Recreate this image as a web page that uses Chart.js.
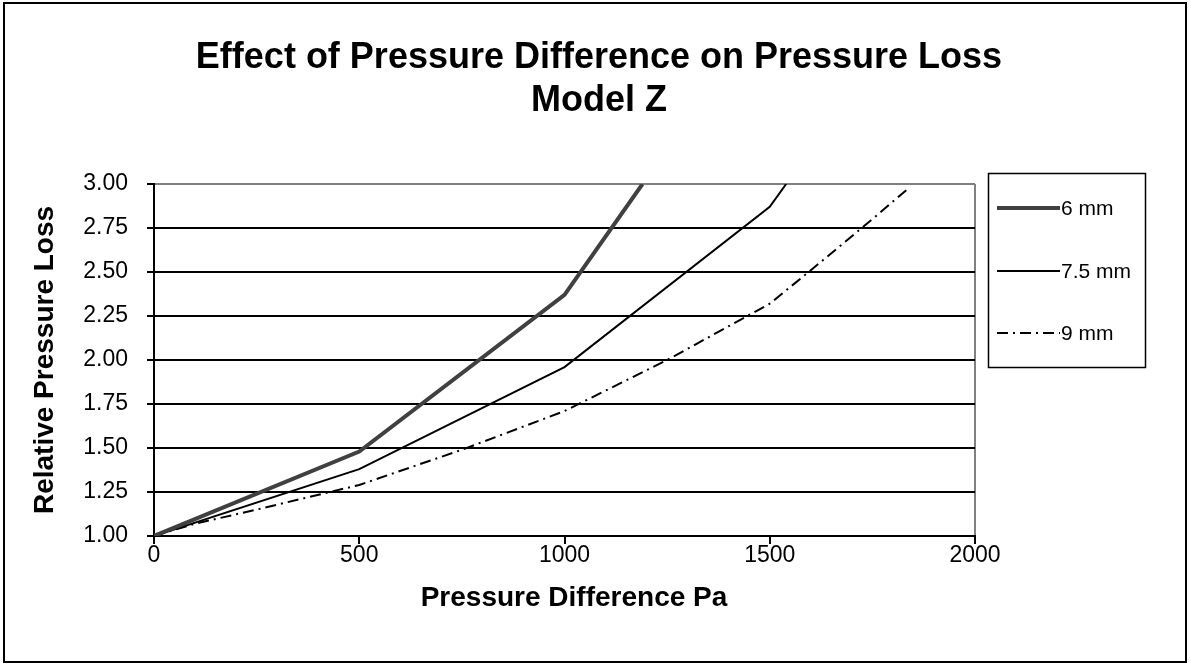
<!DOCTYPE html>
<html>
<head>
<meta charset="utf-8">
<script src="https://cdn.jsdelivr.net/npm/chart.js@4.4.1/dist/chart.umd.min.js"></script>
<style>
html,body{margin:0;padding:0;background:#fff;}
#wrap{width:1191px;height:668px;}
</style>
</head>
<body>
<div id="wrap"><canvas id="c" width="1191" height="668"></canvas></div>
<script>
// ---- data ----
const titleLines = ['Effect of Pressure Difference on Pressure Loss', 'Model Z'];
const xTitle = 'Pressure Difference Pa';
const yTitle = 'Relative Pressure Loss';
const seriesNames = ['6 mm', '7.5 mm', '9 mm'];

const pressure6 = [0, 500, 1000, 1190];
const loss6 = [1.00, 1.48, 2.37, 3.00];

const pressure75 = [0, 500, 1000, 1500, 1540];
const loss75 = [1.00, 1.38, 1.96, 2.87, 3.00];

const pressure9 = [0, 100, 250, 500, 750, 1000, 1250, 1500, 1600, 1750, 1800, 1840];
const loss9 = [1.00, 1.07, 1.15, 1.29, 1.49, 1.71, 2.00, 2.32, 2.51, 2.80, 2.90, 2.98];

const xTicks = [0, 500, 1000, 1500, 2000];
const yTicks = [1.00, 1.25, 1.50, 1.75, 2.00, 2.25, 2.50, 2.75, 3.00];

const FONT = "'Liberation Sans', Arial, sans-serif";

function pts(xs, ys) { return xs.map((x, i) => ({x: x, y: ys[i]})); }

const styles = [
  {borderColor: '#404040', borderWidth: 4, borderDash: []},
  {borderColor: '#000000', borderWidth: 2, borderDash: []},
  {borderColor: '#000000', borderWidth: 2, borderDash: [11, 5, 2, 5]}
];

const datasets = [
  Object.assign({label: seriesNames[0], data: pts(pressure6, loss6)}, styles[0]),
  Object.assign({label: seriesNames[1], data: pts(pressure75, loss75)}, styles[1]),
  Object.assign({label: seriesNames[2], data: pts(pressure9, loss9)}, styles[2])
].map(d => Object.assign(d, {showLine: true, pointRadius: 0, pointHoverRadius: 0, fill: false, tension: 0}));

const framePlugin = {
  id: 'frame',
  beforeDraw(chart) {
    const ctx = chart.ctx;
    ctx.save();
    ctx.fillStyle = '#fff';
    ctx.fillRect(0, 0, chart.width, chart.height);
    ctx.strokeStyle = '#000';
    ctx.lineWidth = 2;
    ctx.strokeRect(4, 3, 1182, 659);
    // chart title
    ctx.fillStyle = '#000';
    ctx.textAlign = 'center';
    ctx.textBaseline = 'middle';
    ctx.font = 'bold 36px ' + FONT;
    ctx.fillText(titleLines[0], 599, 58);
    ctx.fillText(titleLines[1], 599, 101);
    // x axis title
    ctx.font = 'bold 28px ' + FONT;
    ctx.fillText(xTitle, 574, 598);
    ctx.restore();
  }
};

const legendBoxPlugin = {
  id: 'legendBox',
  afterDraw(chart) {
    const ctx = chart.ctx;
    ctx.save();
    ctx.strokeStyle = '#000';
    ctx.lineWidth = 1.5;
    ctx.strokeRect(988.5, 173.5, 157, 194);
    const rows = [208, 271, 333];
    ctx.font = '21px ' + FONT;
    ctx.fillStyle = '#000';
    ctx.textBaseline = 'middle';
    ctx.textAlign = 'left';
    chart.data.datasets.forEach((ds, i) => {
      const y = rows[i];
      ctx.beginPath();
      ctx.strokeStyle = ds.borderColor;
      ctx.lineWidth = ds.borderWidth;
      ctx.setLineDash(ds.borderDash || []);
      ctx.moveTo(997, y);
      ctx.lineTo(1060, y);
      ctx.stroke();
      ctx.setLineDash([]);
      ctx.fillText(ds.label, 1061, y + 1);
    });
    ctx.restore();
  }
};

new Chart(document.getElementById('c'), {
  type: 'scatter',
  data: {datasets: datasets},
  plugins: [framePlugin, legendBoxPlugin],
  options: {
    responsive: false,
    animation: false,
    layout: {padding: {left: 0, right: 216, top: 184, bottom: 0}},
    plugins: {
      legend: {display: false},
      tooltip: {enabled: false},
      title: {display: false}
    },
    scales: {
      x: {
        type: 'linear',
        min: 0, max: 2000,
        afterBuildTicks(scale) { scale.ticks = xTicks.map(v => ({value: v})); },
        afterFit(scale) { scale.height = 132; },
        ticks: {
          color: '#000',
          font: {family: FONT, size: 23, lineHeight: 1.0},
          padding: 0,
          maxRotation: 0,
          callback: v => String(v)
        },
        grid: {
          drawOnChartArea: true,
          color: ctx => (ctx.tick && ctx.tick.value === 2000) ? '#808080' : 'rgba(0,0,0,0)',
          lineWidth: 2,
          tickColor: '#000',
          tickLength: 8,
          tickWidth: 2
        },
        border: {display: true, color: '#000', width: 2},
        title: {display: false, text: xTitle}
      },
      y: {
        type: 'linear',
        min: 1, max: 3,
        afterBuildTicks(scale) { scale.ticks = yTicks.map(v => ({value: v})); },
        afterFit(scale) { scale.width = 154; },
        ticks: {
          color: '#000',
          font: {family: FONT, size: 23},
          padding: 19,
          callback: v => Number(v).toFixed(2)
        },
        grid: {
          color: ctx => (ctx.tick && ctx.tick.value === 3) ? '#808080' : '#000',
          lineWidth: 2,
          tickColor: '#000',
          tickLength: 7,
          tickWidth: 2
        },
        border: {display: true, color: '#000', width: 2},
        title: {
          display: true,
          text: yTitle,
          color: '#000',
          font: {family: FONT, size: 28, weight: 'bold', lineHeight: 1.2},
          padding: {top: 28, bottom: 0}
        }
      }
    }
  }
});
</script>
</body>
</html>
